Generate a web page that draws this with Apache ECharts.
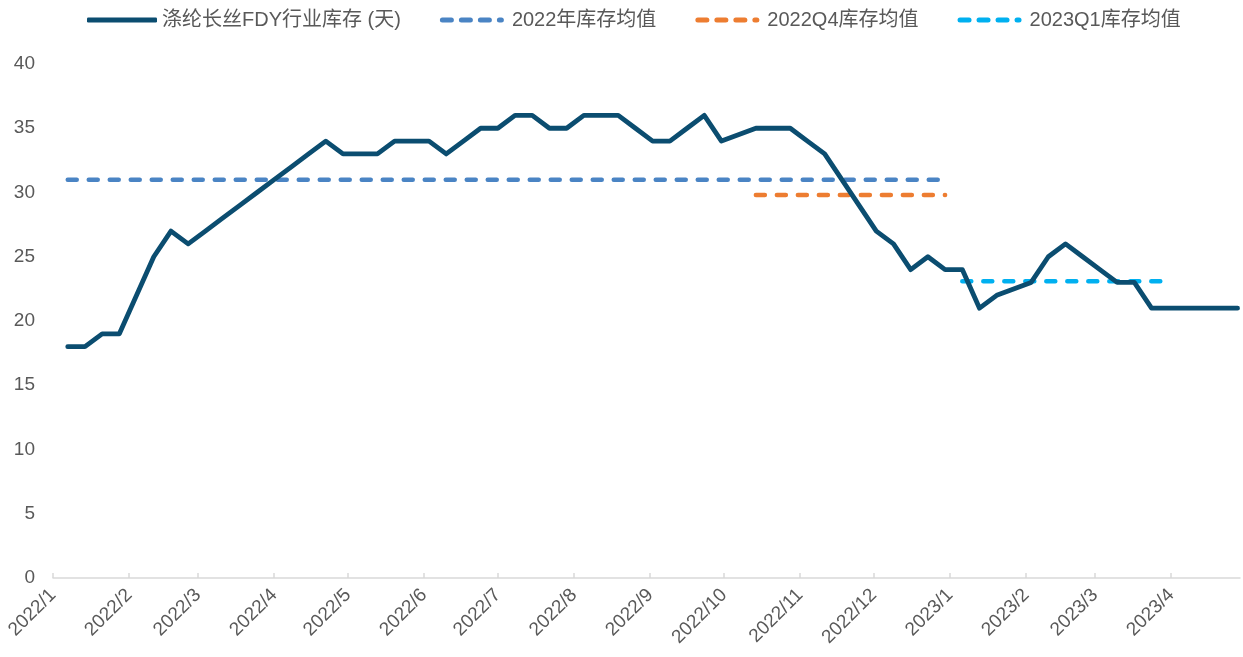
<!DOCTYPE html>
<html>
<head>
<meta charset="utf-8">
<script src="https://cdn.jsdelivr.net/npm/echarts@6/dist/echarts.min.js"></script>
<style>
  html, body { margin: 0; padding: 0; background: #fff; }
  #chart { width: 1243px; height: 657px; }
</style>
</head>
<body>
<div id="chart"></div>
<script>
// 周度数据（缺失周不补点）
var weekDates = [
  '2022-01-07','2022-01-14','2022-01-21','2022-01-28','2022-02-11','2022-02-18','2022-02-25',
  '2022-03-04','2022-03-11','2022-03-18','2022-03-25','2022-04-01','2022-04-08','2022-04-15',
  '2022-04-22','2022-04-29','2022-05-06','2022-05-13','2022-05-20','2022-05-27','2022-06-03',
  '2022-06-10','2022-06-17','2022-06-24','2022-07-01','2022-07-08','2022-07-15','2022-07-22',
  '2022-07-29','2022-08-05','2022-08-12','2022-08-19','2022-08-26','2022-09-02','2022-09-09',
  '2022-09-16','2022-09-23','2022-09-30','2022-10-14','2022-10-21','2022-10-28','2022-11-04',
  '2022-11-11','2022-11-18','2022-11-25','2022-12-02','2022-12-09','2022-12-16','2022-12-23',
  '2022-12-30','2023-01-06','2023-01-13','2023-01-20','2023-02-03','2023-02-10','2023-02-17',
  '2023-02-24','2023-03-03','2023-03-10','2023-03-17','2023-03-24','2023-03-31','2023-04-07',
  '2023-04-14','2023-04-21','2023-04-28'
];
var inventoryDays = [
  18,18,19,19,25,27,26,
  27,28,29,30,31,32,33,
  34,33,33,33,34,34,34,
  33,34,35,35,36,36,35,
  35,36,36,36,35,34,34,
  35,36,34,35,35,35,34,
  33,31,29,27,26,24,25,
  24,24,21,22,23,25,26,
  25,24,23,23,21,21,21,
  21,21,21
];

// 均值线：起止日期 + 数值
var avg2022Range = ['2022-01-07', '2022-12-30'];
var avg2022Value = 31;
var avgQ4Range = ['2022-10-14', '2022-12-30'];
var avgQ4Value = 29.8;
var avgQ1Range = ['2023-01-06', '2023-03-31'];
var avgQ1Value = 23.1;

var seriesNames = ['涤纶长丝FDY行业库存 (天)', '2022年库存均值', '2022Q4库存均值', '2023Q1库存均值'];

function pairs(dates, values) {
  return dates.map(function (d, i) { return [d, values[i]]; });
}
function flat(range, v) {
  return [[range[0], v], [range[1], v]];
}

// 图例里的虚线图标（四段圆头短划）
function dashPiece(x0, x1) {
  return 'M' + (x0 + 2.5) + ',0H' + (x1 - 2.5) + 'A2.5,2.5 0 0 1 ' + (x1 - 2.5) + ',5H' + (x0 + 2.5) + 'A2.5,2.5 0 0 1 ' + (x0 + 2.5) + ',0Z';
}
var dashIcon = 'path://' + dashPiece(0, 14) + dashPiece(19, 33) + dashPiece(38, 52) + dashPiece(57, 64);

var myChart = echarts.init(document.getElementById('chart'));
var font = "'Liberation Sans', Arial, 'Noto Sans CJK SC', sans-serif";
var dashStyle = function (color) {
  return { color: color, width: 4.5, type: [9, 12], cap: 'round' };
};

var option = {
  animation: false,
  textStyle: { fontFamily: font },
  legend: {
    top: 5,
    left: 82,
    itemWidth: 70,
    itemHeight: 5,
    itemGap: 39,
    textStyle: { fontSize: 20, color: '#595959', fontFamily: font },
    data: [
      { name: seriesNames[0], icon: 'roundRect' },
      { name: seriesNames[1], icon: dashIcon },
      { name: seriesNames[2], icon: dashIcon },
      { name: seriesNames[3], icon: dashIcon }
    ]
  },
  grid: { left: 53, right: 3, top: 64, bottom: 79 },
  xAxis: {
    type: 'time',
    min: '2022-01-01',
    max: '2023-04-29',
    minInterval: 28 * 86400000,
    maxInterval: 31 * 86400000,
    axisLine: { lineStyle: { color: '#d9d9d9', width: 1.5 } },
    axisTick: { show: true, inside: true, length: 5, lineStyle: { color: '#d9d9d9', width: 1.5 } },
    splitLine: { show: false },
    axisLabel: {
      rotate: 45,
      fontSize: 19,
      color: '#595959',
      margin: 14,
      showMaxLabel: false,
      formatter: function (v) {
        var d = new Date(v);
        return d.getFullYear() + '/' + (d.getMonth() + 1);
      }
    }
  },
  yAxis: {
    type: 'value',
    min: 0,
    max: 40,
    interval: 5,
    axisLine: { show: false },
    axisTick: { show: false },
    splitLine: { show: false },
    axisLabel: { fontSize: 19, color: '#595959', margin: 18 }
  },
  series: [
    {
      name: seriesNames[0],
      type: 'line',
      symbol: 'none',
      data: pairs(weekDates, inventoryDays),
      lineStyle: { color: '#0b4d70', width: 4.8, cap: 'round', join: 'round' },
      itemStyle: { color: '#0b4d70' },
      z: 5
    },
    {
      name: seriesNames[1],
      type: 'line',
      symbol: 'none',
      data: flat(avg2022Range, avg2022Value),
      lineStyle: dashStyle('#4a84c4'),
      itemStyle: { color: '#4a84c4' }
    },
    {
      name: seriesNames[2],
      type: 'line',
      symbol: 'none',
      data: flat(avgQ4Range, avgQ4Value),
      lineStyle: dashStyle('#ed7d31'),
      itemStyle: { color: '#ed7d31' }
    },
    {
      name: seriesNames[3],
      type: 'line',
      symbol: 'none',
      data: flat(avgQ1Range, avgQ1Value),
      lineStyle: dashStyle('#00b0f0'),
      itemStyle: { color: '#00b0f0' }
    }
  ]
};

myChart.setOption(option);
</script>
</body>
</html>
